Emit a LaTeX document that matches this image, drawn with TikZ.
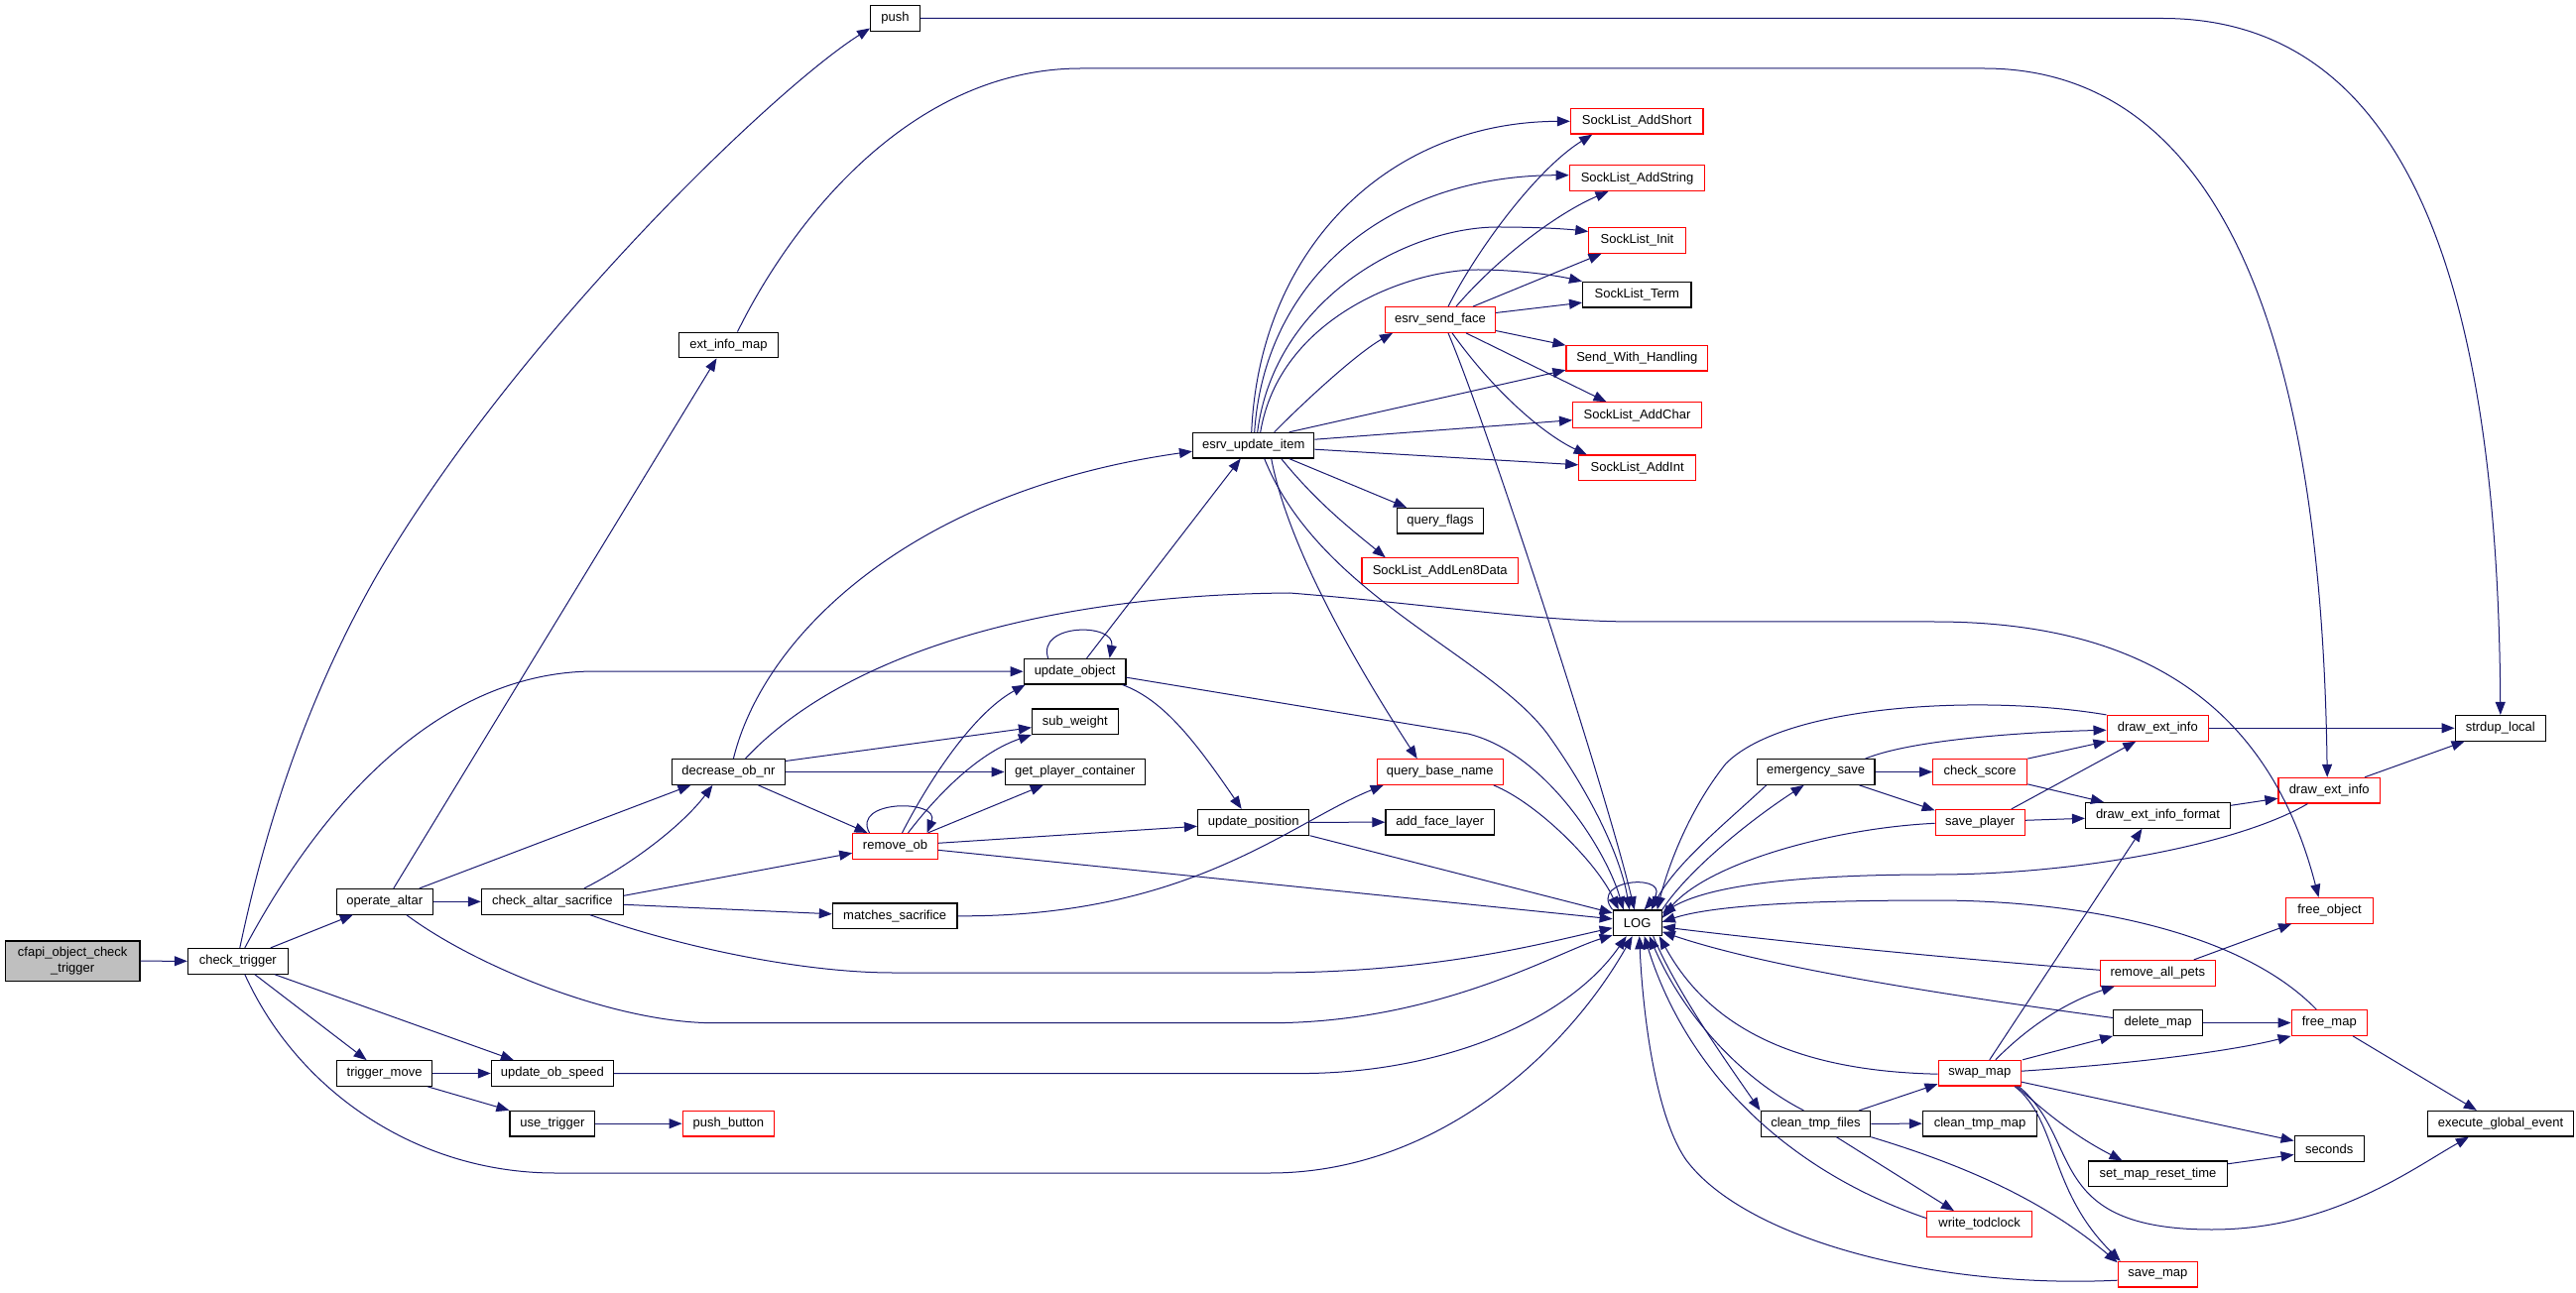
\documentclass[tikz,border=0pt]{standalone}
\usepackage{fontspec}
\setmainfont{Liberation Sans}
\usetikzlibrary{arrows.meta,calc}
\definecolor{edgec}{HTML}{191970}
\definecolor{grayfill}{HTML}{BFBFBF}
\begin{document}
\begin{tikzpicture}[x=0.5pt,y=-0.5pt,
  nb/.style={draw=black, fill=white, line width=0.6pt, minimum height=12.8pt, inner sep=0pt, font=\fontsize{6.5pt}{7.7pt}\selectfont},
  nr/.style={nb, draw=red},
  cedge/.style={draw=edgec, line width=0.5pt, -{Triangle[length=6.5pt,width=5pt]}}]
\fill[white] (0,0) rectangle (2597,1304);
\useasboundingbox (0,0) rectangle (2597,1304);
% nodes
\node[nb, fill=grayfill, minimum width=67.75pt, minimum height=20.15pt, align=center] (cfapi) at (73.2,969.2) {cfapi\_object\_check\\\_trigger};
\node[nb, minimum width=50.4pt] (ct) at (239.8,969.3) {check\_trigger};
\node[nb, minimum width=48.7pt] (oa) at (387.8,909.3) {operate\_altar};
\node[nb, minimum width=71.5pt] (cas) at (556.9,909.3) {check\_altar\_sacrifice};
\node[nb, minimum width=48.1pt] (tm) at (387.6,1082.5) {trigger\_move};
\node[nb, minimum width=61.55pt] (uos) at (556.9,1082.5) {update\_ob\_speed};
\node[nb, minimum width=42.9pt] (ut) at (556.9,1133.2) {use\_trigger};
\node[nb, minimum width=24.85pt] (push) at (902.5,18.5) {push};
\node[nb, minimum width=49.75pt] (eim) at (734.5,348) {ext\_info\_map};
\node[nb, minimum width=57pt] (don) at (734.4,778.5) {decrease\_ob\_nr};
\node[nr, minimum width=46.25pt] (pb) at (734.4,1133.2) {push\_button};
\node[nr, minimum width=42.7pt] (ro) at (902.5,853.3) {remove\_ob};
\node[nb, minimum width=62.8pt] (ms) at (902.2,923.8) {matches\_sacrifice};
\node[nb, minimum width=51.4pt] (uo) at (1083.6,677.2) {update\_object};
\node[nb, minimum width=43.3pt] (sw) at (1083.8,727.7) {sub\_weight};
\node[nb, minimum width=70.7pt] (gpc) at (1083.8,778.5) {get\_player\_container};
\node[nb, minimum width=61.15pt] (eui) at (1263.7,449.2) {esrv\_update\_item};
\node[nb, minimum width=56.15pt] (up) at (1263.7,829.3) {update\_position};
\node[nr, minimum width=55.35pt] (esf) at (1452,322.5) {esrv\_send\_face};
\node[nb, minimum width=43.35pt] (qf) at (1452,525.2) {query\_flags};
\node[nr, minimum width=78.75pt] (sal) at (1451.7,575.7) {SockList\_AddLen8Data};
\node[nr, minimum width=63.4pt] (qbn) at (1451.7,778.5) {query\_base\_name};
\node[nb, minimum width=54.7pt] (afl) at (1451.7,829.2) {add\_face\_layer};
\node[nr, minimum width=66.75pt] (sas) at (1650.2,122.3) {SockList\_AddShort};
\node[nr, minimum width=68.2pt] (sastr) at (1650.5,179.7) {SockList\_AddString};
\node[nr, minimum width=48.7pt] (si) at (1650.5,242.5) {SockList\_Init};
\node[nb, minimum width=54.7pt] (st) at (1650.3,297.2) {SockList\_Term};
\node[nr, minimum width=71.3pt] (swh) at (1650.3,361.2) {Send\_With\_Handling};
\node[nr, minimum width=64.9pt] (sac) at (1650.5,418.7) {SockList\_AddChar};
\node[nr, minimum width=58.9pt] (sai) at (1650.7,471.8) {SockList\_AddInt};
\node[nb, minimum width=24.5pt] (LOG) at (1650.7,930.8) {LOG};
\node[nb, minimum width=59.3pt] (es) at (1830.6,778.5) {emergency\_save};
\node[nb, minimum width=55.3pt] (ctf) at (1830.4,1133.3) {clean\_tmp\_files};
\node[nr, minimum width=47.45pt] (cs) at (1996.2,778.5) {check\_score};
\node[nr, minimum width=45pt] (sp) at (1996.2,829.3) {save\_player};
\node[nr, minimum width=41.7pt] (sm) at (1995.8,1082.2) {swap\_map};
\node[nb, minimum width=57.6pt] (ctm) at (1996,1133.2) {clean\_tmp\_map};
\node[nr, minimum width=53.1pt] (wt) at (1995.6,1234.5) {write\_todclock};
\node[nr, minimum width=51.2pt] (deiL) at (2175.3,734.3) {draw\_ext\_info};
\node[nb, minimum width=72.95pt] (deif) at (2175.5,822.3) {draw\_ext\_info\_format};
\node[nr, minimum width=57.8pt] (rap) at (2175.3,981.3) {remove\_all\_pets};
\node[nb, minimum width=44.8pt] (dm) at (2175.5,1031.5) {delete\_map};
\node[nb, minimum width=69.65pt] (smrt) at (2175.5,1183.8) {set\_map\_reset\_time};
\node[nr, minimum width=40pt] (smap) at (2175.3,1285.2) {save\_map};
\node[nr, minimum width=51.2pt] (deiR) at (2348.2,797.2) {draw\_ext\_info};
\node[nr, minimum width=43.75pt] (fo) at (2348.5,918.3) {free\_object};
\node[nr, minimum width=38.15pt] (fm) at (2348.3,1031.5) {free\_map};
\node[nb, minimum width=35pt] (sec) at (2348.2,1158.5) {seconds};
\node[nb, minimum width=45.6pt] (sl) at (2520.8,734.3) {strdup\_local};
\node[nb, minimum width=73.5pt] (ege) at (2521,1133.2) {execute\_global\_event};
% edges
\draw[cedge] (cfapi.east) -- (ct.west);
\draw[cedge] ($(ct.north)+(2,0)$) .. controls (262,860) and (300,720) .. (380,580) .. controls (520,340) and (780,90) .. ($(push.west)+(0,10)$);
\draw[cedge] ($(ct.north)+(7,0)$) .. controls (330,800) and (450,677) .. (600,677) -- (uo.west);
\draw[cedge] ($(ct.north)+(33,0)$) -- ($(oa.south)+(-32,0)$);
\draw[cedge] ($(ct.south)+(17,0)$) -- ($(tm.north)+(-18,0)$);
\draw[cedge] ($(ct.south)+(37,0)$) -- ($(uos.north)+(-39,0)$);
\draw[cedge] ($(ct.south)+(7,0)$) .. controls (300,1100) and (420,1183) .. (560,1183) -- (1280,1183) .. controls (1450,1183) and (1580,1060) .. ($(LOG.south)+(-5,0)$);
\draw[cedge] ($(oa.north)+(9,0)$) -- ($(eim.south)+(-12,0)$);
\draw[cedge] ($(oa.north)+(35,0)$) -- ($(don.south)+(-38,0)$);
\draw[cedge] (oa.east) -- (cas.west);
\draw[cedge] ($(oa.south)+(22,0)$) .. controls (480,975) and (620,1031.7) .. (720,1031.7) -- (1280,1031.7) .. controls (1450,1031.7) and (1570,960) .. ($(LOG.south west)+(0,-1)$);
\draw[cedge] ($(cas.north)+(32,0)$) .. controls (640,870) and (690,830) .. ($(don.south)+(-16,0)$);
\draw[cedge] ($(cas.east)+(0,-6)$) -- ($(ro.west)+(0,7)$);
\draw[cedge] ($(cas.east)+(0,3)$) -- ($(ms.west)+(0,-2)$);
\draw[cedge] ($(cas.south)+(38,0)$) .. controls (700,960) and (820,981) .. (900,981) -- (1280,981) .. controls (1450,981) and (1560,950) .. ($(LOG.west)+(0,5)$);
\draw[cedge] ($(don.north)+(5,0)$) .. controls (770,640) and (920,495) .. ($(eui.west)+(0,6)$);
\draw[cedge] ($(don.north)+(17,0)$) .. controls (850,660) and (1050,600) .. (1300,598) .. controls (1450,610) and (1550,627) .. (1650,627) -- (1950,627) .. controls (2170,627) and (2290,720) .. ($(fo.north)+(-11,0)$);
\draw[cedge] ($(don.east)+(0,-11)$) -- ($(sw.west)+(0,6)$);
\draw[cedge] (don.east) -- (gpc.west);
\draw[cedge] ($(don.south)+(30,0)$) -- ($(ro.north)+(-28,0)$);
\draw[cedge] ($(ro.north)+(-26,0)$) .. controls (858,806) and (948,806) .. ($(ro.north)+(32,0)$);
\draw[cedge] ($(ro.north)+(7,0)$) .. controls (935,790) and (980,720) .. ($(uo.south west)+(2,0)$);
\draw[cedge] ($(ro.north)+(13,0)$) .. controls (950,795) and (990,758) .. (sw.south west);
\draw[cedge] ($(ro.north)+(33,0)$) -- ($(gpc.south)+(-32,0)$);
\draw[cedge] ($(ro.east)+(0,-3)$) -- ($(up.west)+(0,4)$);
\draw[cedge] ($(ro.east)+(0,4)$) -- ($(LOG.west)+(0,-4)$);
\draw[cedge] ($(uo.north)+(-27,0)$) .. controls (1045,628) and (1125,628) .. ($(uo.north)+(35,0)$);
\draw[cedge] ($(uo.north)+(12,0)$) -- ($(eui.south)+(-13,0)$);
\draw[cedge] ($(uo.south east)+(-4,0)$) .. controls (1170,705) and (1200,740) .. ($(up.north)+(-12,0)$);
\draw[cedge] ($(uo.east)+(0,6)$) -- (1480,740) .. controls (1560,760) and (1620,860) .. ($(LOG.north)+(-14,0)$);
\draw[cedge] (up.east) -- (afl.west);
\draw[cedge] (up.south east) -- ($(LOG.west)+(0,-10)$);
\draw[cedge] ($(eui.north)+(-2,0)$) .. controls (1270,250) and (1400,123) .. (sas.west);
\draw[cedge] ($(eui.north)+(1,0)$) .. controls (1275,280) and (1400,177) .. ($(sastr.west)+(0,-3)$);
\draw[cedge] ($(eui.north)+(4,0)$) .. controls (1285,300) and (1420,229) .. (1510,229) .. controls (1550,229) and (1580,231) .. ($(si.west)+(0,-9)$);
\draw[cedge] ($(eui.north)+(7,0)$) .. controls (1290,320) and (1420,272) .. (1490,272) .. controls (1530,272) and (1570,278) .. (st.north west);
\draw[cedge] ($(eui.north)+(21,0)$) .. controls (1320,400) and (1370,355) .. ($(esf.south)+(-48,0)$);
\draw[cedge] ($(eui.north)+(36,0)$) -- ($(swh.west)+(0,12)$);
\draw[cedge] ($(eui.east)+(0,-6)$) -- ($(sac.west)+(0,5)$);
\draw[cedge] ($(eui.east)+(0,4)$) -- ($(sai.west)+(0,-3)$);
\draw[cedge] ($(eui.south)+(36,0)$) -- ($(qf.north)+(-34,0)$);
\draw[cedge] ($(eui.south)+(28,0)$) .. controls (1330,510) and (1370,540) .. ($(sal.north)+(-55,0)$);
\draw[cedge] ($(eui.south)+(18,0)$) .. controls (1300,560) and (1380,690) .. ($(qbn.north)+(-23,0)$);
\draw[cedge] ($(eui.south)+(11,0)$) .. controls (1330,600) and (1500,660) .. (1560,740) .. controls (1610,810) and (1635,870) .. ($(LOG.north)+(-8,0)$);
\draw[cedge] ($(esf.north)+(8,0)$) .. controls (1490,250) and (1550,170) .. ($(sas.south)+(-45,0)$);
\draw[cedge] ($(esf.north)+(16,0)$) .. controls (1510,260) and (1570,215) .. ($(sastr.south)+(-29,0)$);
\draw[cedge] ($(esf.north)+(33,0)$) -- ($(si.south)+(-36,0)$);
\draw[cedge] ($(esf.east)+(0,-7)$) -- ($(st.west)+(0,8)$);
\draw[cedge] ($(esf.east)+(0,11)$) -- ($(swh.west)+(0,-13)$);
\draw[cedge] ($(esf.south)+(26,0)$) -- ($(sac.north)+(-31,0)$);
\draw[cedge] ($(esf.south)+(12,0)$) .. controls (1510,400) and (1560,440) .. ($(sai.north)+(-51,0)$);
\draw[cedge] ($(esf.south)+(8,0)$) .. controls (1500,430) and (1620,800) .. ($(LOG.north)+(-3,0)$);
\draw[cedge] ($(qbn.south east)+(-10,0)$) .. controls (1550,810) and (1610,870) .. ($(LOG.north)+(-19,0)$);
\draw[cedge] (ms.east) .. controls (1200,925) and (1300,830) .. ($(qbn.south west)+(7,0)$);
\draw[cedge] (uos.east) -- (1300,1082.5) .. controls (1450,1085) and (1580,1030) .. ($(LOG.south)+(-11,0)$);
\draw[cedge] (tm.east) -- (uos.west);
\draw[cedge] ($(tm.south east)+(-5,0)$) -- (ut.north west);
\draw[cedge] (ut.east) -- (pb.west);
\draw[cedge] (LOG.north west) .. controls (1600,885) and (1690,880) .. ($(LOG.north)+(7,0)$);
\draw[cedge] (LOG.north east) .. controls (1700,880) and (1760,830) .. ($(es.south)+(-12,0)$);
\draw[cedge] ($(es.south west)+(10,0)$) .. controls (1740,830) and (1690,870) .. ($(LOG.north)+(14,0)$);
\draw[cedge] (es.east) -- (cs.west);
\draw[cedge] ($(es.south east)+(-16,0)$) -- ($(sp.west)+(0,-12)$);
\draw[cedge] ($(es.north east)+(-10,0)$) .. controls (1930,745) and (2050,738) .. ($(deiL.west)+(0,2)$);
\draw[cedge] (deiL.north west) .. controls (2000,700) and (1800,710) .. (1740,770) .. controls (1700,820) and (1680,880) .. ($(LOG.north)+(20,0)$);
\draw[cedge] (cs.north east) -- (deiL.south west);
\draw[cedge] ($(cs.south east)+(0,-1)$) -- ($(deif.north west)+(19,0)$);
\draw[cedge] ($(sp.north east)+(-14,0)$) -- ($(deiL.south)+(-22,0)$);
\draw[cedge] ($(sp.east)+(0,-2)$) -- ($(deif.west)+(0,3)$);
\draw[cedge] ($(sp.west)+(0,1)$) .. controls (1850,835) and (1720,870) .. ($(LOG.east)+(0,-5)$);
\draw[cedge] ($(deif.east)+(0,-10)$) -- ($(deiR.west)+(0,8)$);
\draw[cedge] (deiL.east) -- (sl.west);
\draw[cedge] ($(deiR.north east)+(-16,0)$) -- ($(sl.south west)+(10,0)$);
\draw[cedge] (push.east) -- (2180,18.5) .. controls (2410,18.5) and (2518,250) .. (sl.north);
\draw[cedge] ($(eim.north)+(9,0)$) .. controls (800,220) and (920,69) .. (1090,69) -- (2000,69) .. controls (2220,69) and (2340,300) .. ($(deiR.north)+(-2,0)$);
\draw[cedge] ($(LOG.south)+(16,0)$) .. controls (1690,1000) and (1740,1070) .. (ctf.north west);
\draw[cedge] ($(ctf.north)+(-12,0)$) .. controls (1760,1090) and (1700,1030) .. ($(LOG.south)+(12,0)$);
\draw[cedge] ($(ctf.north east)+(-12,0)$) -- ($(sm.west)+(0,11)$);
\draw[cedge] (ctf.east) -- (ctm.west);
\draw[cedge] ($(ctf.south)+(21,0)$) -- ($(wt.north west)+(28,0)$);
\draw[cedge] (ctf.south east) .. controls (1980,1175) and (2060,1210) .. ($(smap.west)+(0,-12)$);
\draw[cedge] ($(wt.west)+(0,-6)$) .. controls (1800,1180) and (1700,1080) .. ($(LOG.south)+(7,0)$);
\draw[cedge] ($(smap.west)+(0,6)$) .. controls (1950,1300) and (1760,1250) .. (1700,1170) .. controls (1665,1120) and (1655,1000) .. ($(LOG.south)+(2,0)$);
\draw[cedge] ($(sm.north)+(10,0)$) -- ($(deif.south)+(-16,0)$);
\draw[cedge] ($(sm.north)+(16,0)$) .. controls (2050,1030) and (2090,1008) .. ($(rap.south west)+(15,0)$);
\draw[cedge] ($(sm.north east)+(1,0)$) -- (dm.south west);
\draw[cedge] ($(sm.east)+(0,-2)$) .. controls (2150,1073) and (2250,1060) .. (fm.south west);
\draw[cedge] ($(sm.east)+(0,9)$) -- ($(sec.west)+(0,-8)$);
\draw[cedge] ($(sm.south east)+(-5,0)$) .. controls (2060,1120) and (2090,1145) .. ($(smrt.north)+(-36,0)$);
\draw[cedge] ($(sm.south east)+(-7,0)$) .. controls (2075,1130) and (2065,1200) .. ($(smap.north west)+(3,0)$);
\draw[cedge] ($(sm.south east)+(-3,0)$) .. controls (2100,1150) and (2060,1240) .. (2230,1240) .. controls (2350,1240) and (2430,1180) .. ($(ege.south west)+(42,0)$);
\draw[cedge] (dm.east) -- (fm.west);
\draw[cedge] ($(fm.south east)+(-15,0)$) -- ($(ege.north west)+(50,0)$);
\draw[cedge] ($(rap.north east)+(-22,0)$) -- ($(fo.south west)+(6,0)$);
\draw[cedge] ($(smrt.east)+(0,-10)$) -- ($(sec.west)+(0,6)$);
\draw[cedge] ($(fm.north)+(-13,0)$) .. controls (2260,940) and (2100,908) .. (1950,908) .. controls (1800,908) and (1720,915) .. ($(LOG.east)+(0,-1)$);
\draw[cedge] ($(rap.west)+(0,-3)$) .. controls (1950,965) and (1800,950) .. ($(LOG.east)+(0,4)$);
\draw[cedge] ($(dm.west)+(0,-5)$) .. controls (1950,1002) and (1780,975) .. ($(LOG.east)+(0,9)$);
\draw[cedge] ($(sm.west)+(0,1)$) .. controls (1800,1080) and (1720,1030) .. ($(LOG.south east)+(-3,0)$);
\draw[cedge] ($(deiR.south west)+(30,0)$) .. controls (2260,850) and (2100,882) .. (1950,882) .. controls (1800,882) and (1720,895) .. ($(LOG.east)+(0,-10)$);
\end{tikzpicture}
\end{document}
